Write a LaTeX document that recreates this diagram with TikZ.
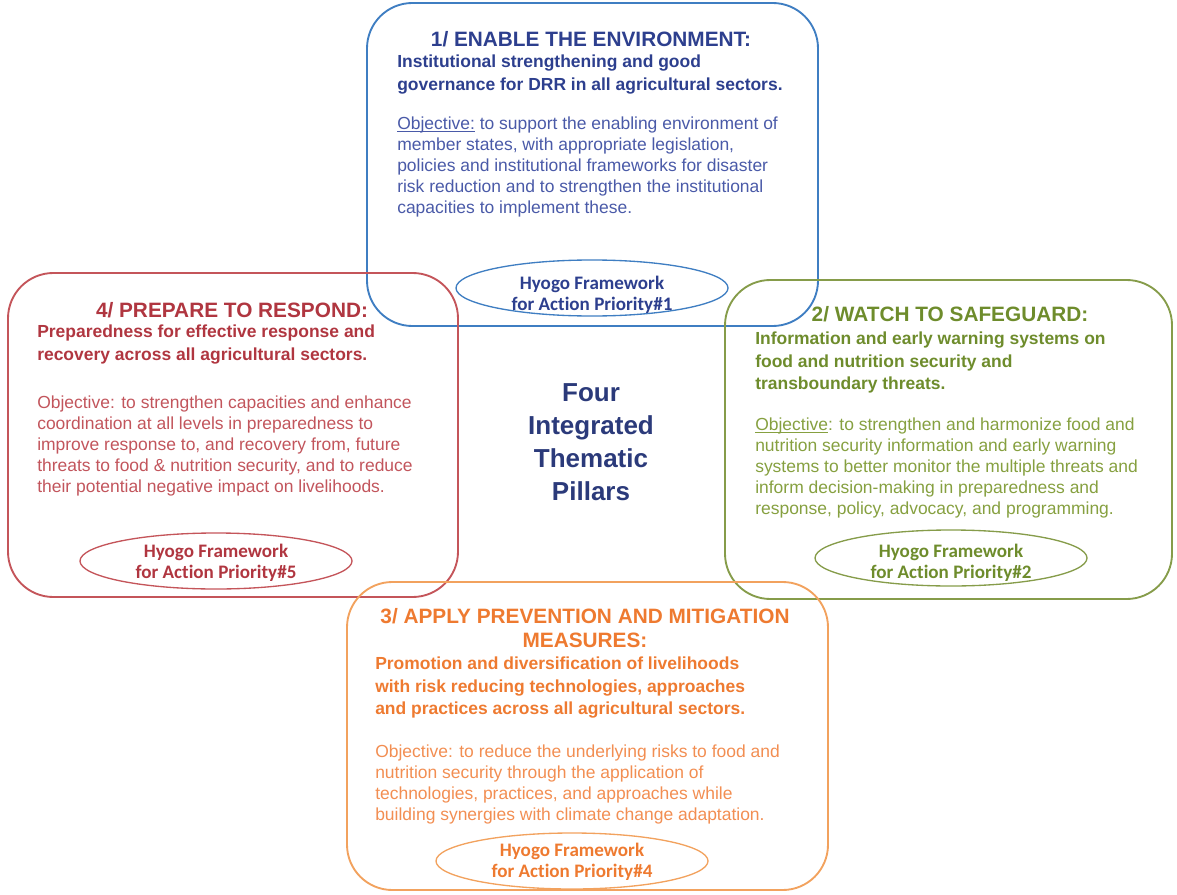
\documentclass[tikz,border=0pt]{standalone}
\usepackage{fontspec}
\setmainfont{Liberation Sans}
\newfontfamily\hyogofont[Ligatures=NoCommon]{Carlito}
\usetikzlibrary{positioning,shapes.geometric}

\definecolor{enableline}{HTML}{3F7EC2}
\definecolor{enablehead}{HTML}{2D3F8E}
\definecolor{enablebody}{HTML}{4A5AA8}
\definecolor{prepline}{HTML}{C4555A}
\definecolor{prephead}{HTML}{B03640}
\definecolor{prepbody}{HTML}{C2555C}
\definecolor{watchline}{HTML}{869C4A}
\definecolor{watchhead}{HTML}{6E8C2C}
\definecolor{watchbody}{HTML}{86A040}
\definecolor{applyline}{HTML}{F2A25E}
\definecolor{applyhead}{HTML}{EE7A30}
\definecolor{applybody}{HTML}{F28E52}
\definecolor{pillarnavy}{HTML}{2B3A7A}

% underline close to the baseline
\newcommand{\objline}[1]{\setbox0\hbox{#1}\rlap{\rule[-1.4pt]{\wd0}{0.5pt}}\box0\relax}

\begin{document}
\begin{tikzpicture}[x=0.75pt,y=-0.75pt,
  pillar/.style={line width=1.4pt,rounded corners=34pt},
  pillarhead/.style={font=\bfseries\fontsize{15.6}{17.8}\selectfont,inner sep=0pt,align=center},
  pillarsub/.style={font=\bfseries\fontsize{13.1}{16.9}\selectfont,align=left,anchor=north west,inner sep=0pt},
  pillarobj/.style={font=\fontsize{13.1}{15.75}\selectfont,align=left,anchor=north west,inner sep=0pt},
  hyogoring/.style={ellipse,draw,line width=1pt,minimum width=204pt,minimum height=42pt,inner sep=0pt},
  hyogotext/.style={font=\hyogofont\bfseries\fontsize{14.3}{15.75}\selectfont,align=center,inner sep=0pt}]
\useasboundingbox (0,0) rectangle (1177,895);
%
\draw[pillar,enableline] (367,3) rectangle (818,326);
\draw[pillar,prepline] (8,273) rectangle (458,597);
\draw[pillar,watchline] (725,280) rectangle (1172,599);
\draw[pillar,applyline] (347,582) rectangle (828,890);
%
\node[pillarhead,enablehead,anchor=base] (enabletitle) at (591,47) {1/ ENABLE THE ENVIRONMENT:};
\node[pillarsub,enablehead] (enablesub) at (397,55) {Institutional strengthening and good\\governance for DRR in all agricultural sectors.};
\node[pillarobj,enablebody] (enableobj) at (397,117) {\objline{Objective:} to support the enabling environment of\\member states, with appropriate legislation,\\policies and institutional frameworks for disaster\\risk reduction and to strengthen the institutional\\capacities to implement these.};
\node[hyogoring,enableline] (enablering) at (592,288) {};
\node[hyogotext,enablehead] (enablehfa) at (592,295) {Hyogo Framework\\for Action Priority\#1};
%
\node[pillarhead,prephead,anchor=base] (preptitle) at (232,317) {4/ PREPARE TO RESPOND:};
\node[pillarsub,prephead] (prepsub) at (37,325) {Preparedness for effective response and\\recovery across all agricultural sectors.};
\node[pillarobj,prepbody] (prepobj) at (37,396) {Objective: to strengthen capacities and enhance\\coordination at all levels in preparedness to\\improve response to, and recovery from, future\\threats to food \& nutrition security, and to reduce\\their potential negative impact on livelihoods.};
\node[hyogoring,prepline] (prepring) at (216,561) {};
\node[hyogotext,prephead] (prephfa) at (216,563) {Hyogo Framework\\for Action Priority\#5};
%
\node[pillarhead,watchhead,anchor=base] (watchtitle) at (950,321) {2/ WATCH TO SAFEGUARD:};
\node[pillarsub,watchhead] (watchsub) at (755,332) {Information and early warning systems on\\food and nutrition security and\\transboundary threats.};
\node[pillarobj,watchbody] (watchobj) at (755,418) {\objline{Objective}: to strengthen and harmonize food and\\nutrition security information and early warning\\systems to better monitor the multiple threats and\\inform decision-making in preparedness and\\response, policy, advocacy, and programming.};
\node[hyogoring,watchline] (watchring) at (951,558) {};
\node[hyogotext,watchhead] (watchhfa) at (951,563) {Hyogo Framework\\for Action Priority\#2};
%
\node[pillarhead,applyhead,anchor=north] (applytitle) at (585,608) {3/ APPLY PREVENTION AND MITIGATION\\MEASURES:};
\node[pillarsub,applyhead] (applysub) at (375,657) {Promotion and diversification of livelihoods\\with risk reducing technologies, approaches\\and practices across all agricultural sectors.};
\node[pillarobj,applybody] (applyobj) at (375,745) {Objective: to reduce the underlying risks to food and\\nutrition security through the application of\\technologies, practices, and approaches while\\building synergies with climate change adaptation.};
\node[hyogoring,applyline] (applyring) at (572,861) {};
\node[hyogotext,applyhead] (applyhfa) at (572,862) {Hyogo Framework\\for Action Priority\#4};
%
\node[font=\bfseries\fontsize{19.5}{24.75}\selectfont,pillarnavy,align=center,anchor=north,inner sep=0pt] (pillars) at (591,383) {Four\\Integrated\\Thematic\\Pillars};
\end{tikzpicture}
\end{document}
